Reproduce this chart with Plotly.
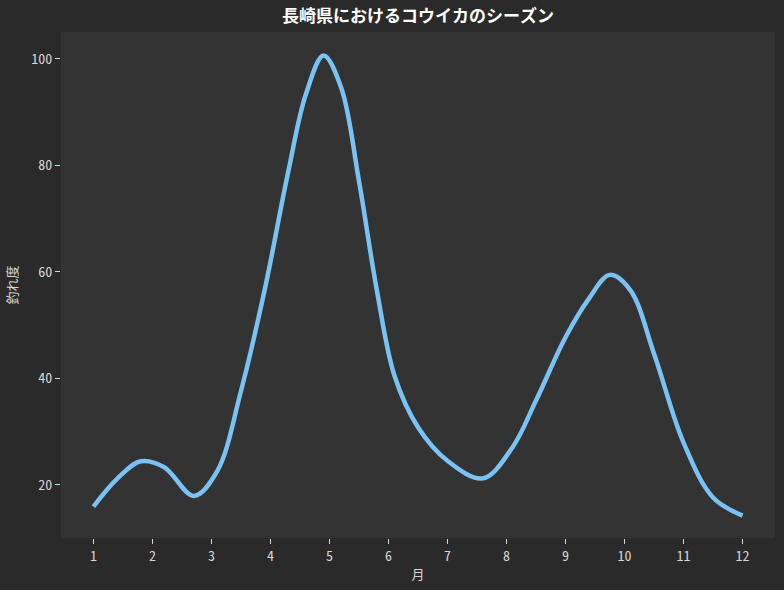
import plotly.graph_objects as go

# 月と釣れ度
months = [1, 1.4, 1.8, 2.2, 2.7, 3.1, 3.5, 3.9, 4.3, 4.6, 4.9, 5.2, 5.5, 5.8, 6.1,
          6.5, 7, 7.6, 8.1, 8.5, 9, 9.4, 9.75, 10.1, 10.5, 11, 11.5, 12]
catch_level = [15.9, 21.1, 24.4, 23.3, 17.9, 22.6, 37.6, 56.5, 78.7, 93.3, 100.6, 94.5, 77.0, 56.7, 40.5,
               30.8, 24.5, 21.2, 27.0, 35.8, 47.7, 55.0, 59.4, 56.5, 44.6, 27.9, 17.6, 14.2]
tick_months = list(range(1, 13))
tick_levels = [20, 40, 60, 80, 100]

FONT = "Noto Sans Mono CJK JP"

fig = go.Figure()
fig.add_trace(go.Scatter(
    x=months, y=catch_level,
    mode="lines",
    line=dict(color="#78c2f4", width=4.5, shape="spline", smoothing=1.0),
    showlegend=False,
))

fig.update_layout(
    width=784, height=590,
    paper_bgcolor="#2a2a2a",
    plot_bgcolor="#333333",
    font=dict(family=FONT, color="#d6d6d6", size=14),
    title=dict(text="<b>長崎県におけるコウイカのシーズン</b>", x=0.5, xref="paper",
               y=0.972, yanchor="middle",
               font=dict(family=FONT, size=17, color="#ffffff")),
    margin=dict(l=61, r=9, t=32, b=52),
)
fig.update_xaxes(
    title=dict(text="月", standoff=6, font=dict(size=13)),
    range=[0.45, 12.55],
    tickvals=tick_months,
    ticks="outside", ticklen=5, tickcolor="#d6d6d6",
    showgrid=False, zeroline=False, showline=False,
)
fig.update_yaxes(
    title=dict(text="釣れ度", standoff=10, font=dict(size=13)),
    range=[10, 105],
    tickvals=tick_levels,
    ticks="outside", ticklen=5, tickcolor="#d6d6d6",
    showgrid=False, zeroline=False, showline=False,
)

fig.write_html("out.html", config={"displayModeBar": False},
               post_script="document.body.style.margin='0';")
